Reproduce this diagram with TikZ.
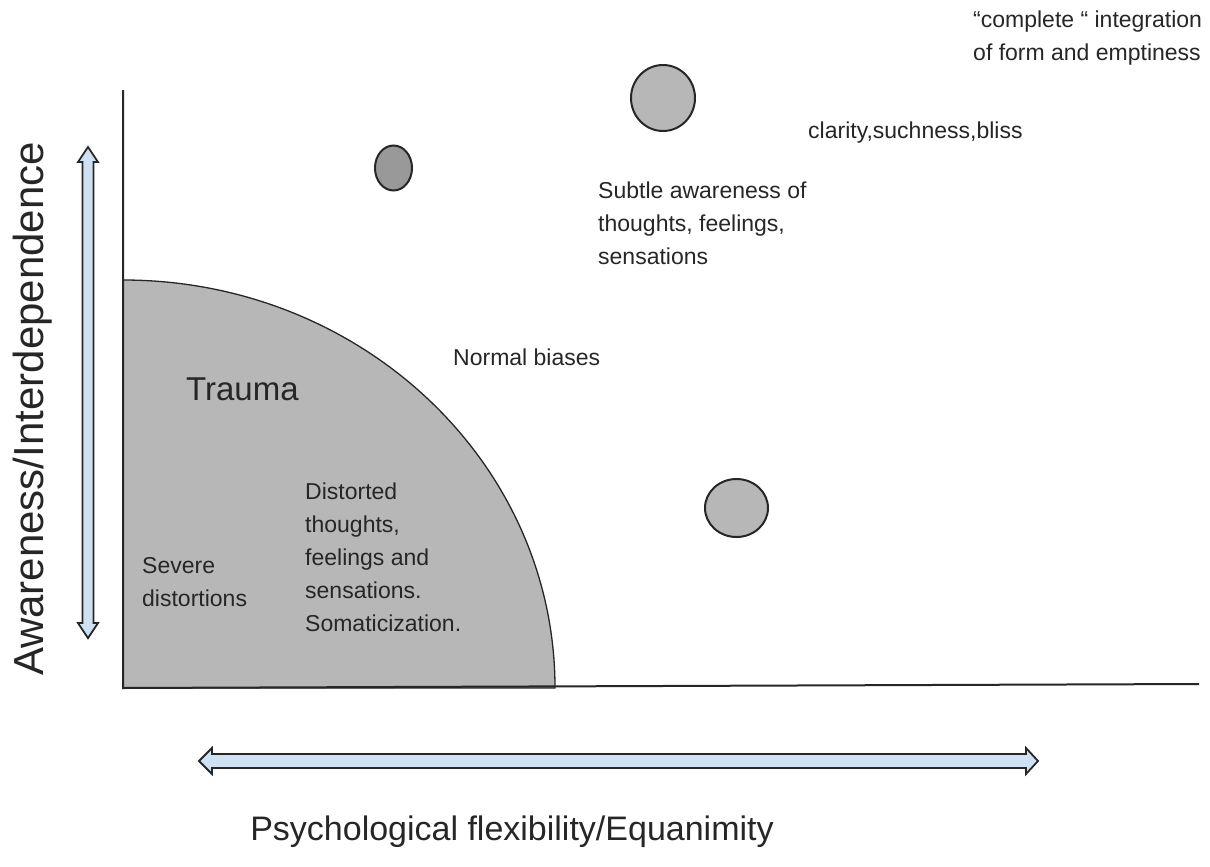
\documentclass[tikz,border=0pt]{standalone}
\usepackage{fontspec}
\setmainfont{Liberation Sans}
\usetikzlibrary{shapes.geometric}
\definecolor{zone}{HTML}{B7B7B7}
\definecolor{darkdot}{HTML}{999999}
\definecolor{arrowfill}{HTML}{CFE2F3}
\definecolor{ink}{HTML}{262626}
\begin{document}
\begin{tikzpicture}[x=1pt,y=-1pt,
  lbl/.style={inner sep=0pt, font=\fontsize{23}{33}\selectfont, align=left, text=ink},
  axislbl/.style={inner sep=0pt, text=ink},
  axisline/.style={draw=ink, line width=2pt},
  arrowbox/.style={draw=ink, line width=1.8pt, fill=arrowfill, line join=miter},
  blob/.style={draw=ink, line width=2pt, ellipse, inner sep=0pt, fill=zone}]
\useasboundingbox (0,0) rectangle (1210,867);

% trauma zone: quarter ellipse at the origin of the axes
\coordinate (O) at (123,688);
\fill[zone, draw=ink, line width=1.3pt] (O) -- (123,280) arc[start angle=-90, end angle=0, x radius=432, y radius=408] -- cycle;

% axes
\draw[axisline] (123,90) -- (O) -- (1199,684);

% double arrows beside the axes
\draw[arrowbox] (88,147) -- (98,162) -- (93.5,162) -- (93.5,623) -- (98,623) -- (88,638)
  -- (78,623) -- (82.5,623) -- (82.5,162) -- (78,162) -- cycle;
\draw[arrowbox] (199,761) -- (212,748) -- (212,754) -- (1026,754) -- (1026,748) -- (1038,761)
  -- (1026,774) -- (1026,768) -- (212,768) -- (212,774) -- cycle;

% states
\node[blob, fill=darkdot, minimum width=37, minimum height=45] (dark) at (393.5,168) {};
\node[blob, minimum width=64, minimum height=66] (clear) at (663,98) {};
\node[blob, minimum width=63, minimum height=58] (normal) at (736.5,508) {};

% labels
\node[lbl, anchor=north west] (integ) at (973,11) {“complete “ integration\\of form and emptiness};
\node[lbl, anchor=base west] (clarity) at (808,138) {clarity,suchness,bliss};
\node[lbl, anchor=north west] (subtle) at (598,182) {Subtle awareness of\\thoughts, feelings,\\sensations};
\node[lbl, anchor=base west] (biases) at (453,365) {Normal biases};
\node[axislbl, anchor=base west, font=\fontsize{33}{40}\selectfont] (trauma) at (186,400) {Trauma};
\node[lbl, anchor=north west] (distorted) at (305,483) {Distorted\\thoughts,\\feelings and\\sensations.\\Somaticization.};
\node[lbl, anchor=north west] (severe) at (142,557) {Severe\\distortions};

% axis titles
\node[axislbl, anchor=base, rotate=90, font=\fontsize{42}{50}\selectfont] (ylabel) at (43,409) {Awareness/Interdependence};
\node[axislbl, anchor=base, font=\fontsize{34}{40}\selectfont] (xlabel) at (512,840) {Psychological flexibility/Equanimity};
\end{tikzpicture}
\end{document}
